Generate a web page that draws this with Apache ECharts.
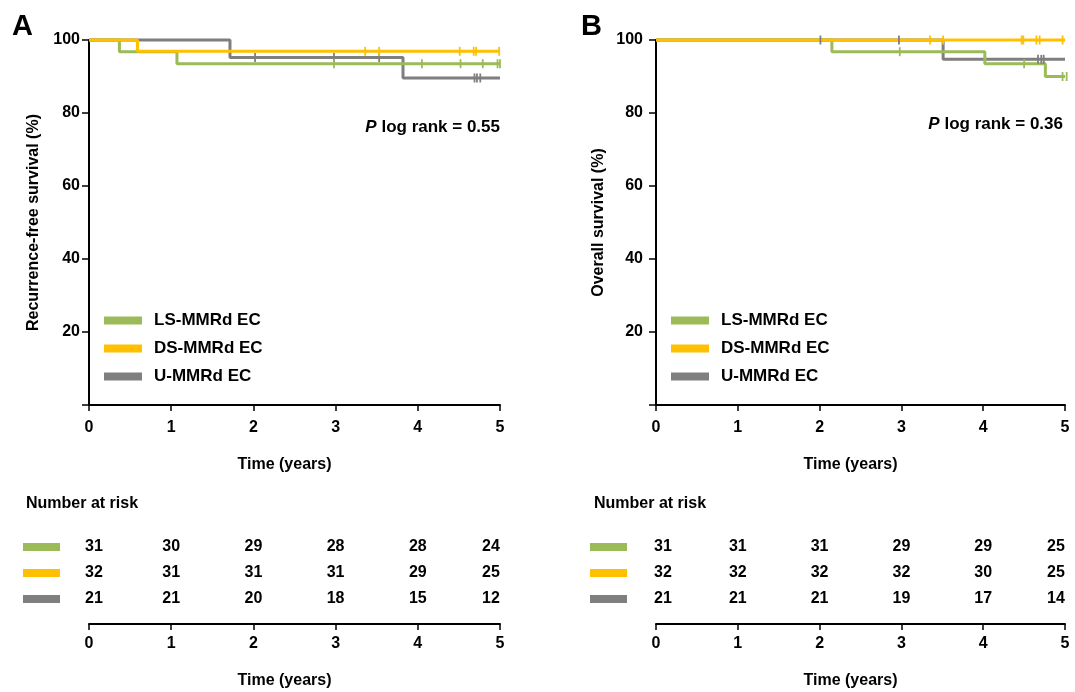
<!DOCTYPE html>
<html>
<head>
<meta charset="utf-8">
<script src="https://cdn.jsdelivr.net/npm/echarts@6/dist/echarts.min.js"></script>
<style>
  html, body { margin: 0; padding: 0; background: #fff; }
  #chart { width: 1075px; height: 692px; }
</style>
</head>
<body>
<div id="chart"></div>
<script>
const FONT = "Liberation Sans, Arial, sans-serif";
const groups = ["LS-MMRd EC", "DS-MMRd EC", "U-MMRd EC"];
const colors = ["#9BBB59", "#FFC000", "#7F7F7F"];
const years = [0, 1, 2, 3, 4, 5];

// panel A: recurrence-free survival, step points [years, %]
const rfsLS = [[0, 100], [0.37, 96.8], [1.07, 93.5], [5, 93.5]];
const rfsDS = [[0, 100], [0.59, 96.9], [5, 96.9]];
const rfsU  = [[0, 100], [1.715, 95.2], [3.82, 89.6], [5, 89.6]];
const rfsCensLS = [2.98, 4.05, 4.52, 4.79, 4.97, 5.0];
const rfsCensDS = [3.36, 3.53, 4.51, 4.68, 4.71, 4.99];
const rfsCensU  = [2.02, 2.98, 3.53, 4.69, 4.72, 4.76];
const riskA_LS = [31, 30, 29, 28, 28, 24];
const riskA_DS = [32, 31, 31, 31, 29, 25];
const riskA_U  = [21, 21, 20, 18, 15, 12];

// panel B: overall survival
const osLS = [[0, 100], [2.15, 96.8], [4.02, 93.5], [4.76, 90.0], [5, 90.0]];
const osDS = [[0, 100], [5, 100]];
const osU  = [[0, 100], [3.51, 94.7], [5, 94.7]];
const osCensLS = [2.98, 4.50, 4.97, 5.02];
const osCensDS = [3.35, 3.51, 4.47, 4.49, 4.65, 4.69, 4.97];
const osCensU  = [2.01, 2.97, 4.67, 4.71, 4.74];
const riskB_LS = [31, 31, 31, 29, 29, 25];
const riskB_DS = [32, 32, 32, 32, 30, 25];
const riskB_U  = [21, 21, 21, 19, 17, 14];

function survAt(curve, t) {
  let v = curve[0][1];
  for (const p of curve) if (p[0] <= t) v = p[1];
  return v;
}

const bold = { fontFamily: FONT, fontWeight: "bold", color: "#000" };
const axisLine = { show: true, onZero: false, lineStyle: { color: "#000", width: 2 } };
const tick = { show: true, lineStyle: { color: "#000", width: 1.5 } };

function plotAxes(gi, yName, nameGap, yMargin) {
  return {
    x: {
      gridIndex: gi, type: "value", min: 0, max: 5, interval: 1,
      axisLine, axisTick: { ...tick, length: 6 },
      axisLabel: { ...bold, fontSize: 16, margin: 15 },
      splitLine: { show: false },
      name: "Time (years)", nameLocation: "middle", nameGap: 52,
      nameTextStyle: { ...bold, fontSize: 16, padding: [0, 20, 0, 0] }
    },
    y: {
      gridIndex: gi, type: "value", min: 0, max: 100, interval: 20,
      axisLine, axisTick: { ...tick, length: 7 },
      axisLabel: { ...bold, fontSize: 16, margin: yMargin, formatter: v => v === 0 ? "" : v },
      splitLine: { show: false },
      name: yName, nameLocation: "middle", nameGap,
      nameTextStyle: { ...bold, fontSize: 16 }
    }
  };
}

function riskAxes(gi) {
  return {
    x: {
      gridIndex: gi, type: "value", min: 0, max: 5, interval: 1, offset: 12,
      axisLine, axisTick: { ...tick, length: 6 },
      axisLabel: { ...bold, fontSize: 16, margin: 12 },
      splitLine: { show: false },
      name: "Time (years)", nameLocation: "middle", nameGap: 49,
      nameTextStyle: { ...bold, fontSize: 16, padding: [0, 20, 0, 0] }
    },
    y: {
      gridIndex: gi, type: "category", data: ["ls", "ds", "u"], inverse: true,
      axisLine: { show: false }, axisTick: { show: false },
      axisLabel: {
        margin: 29, formatter: v => `{${v}|}`,
        rich: {
          ls: { backgroundColor: colors[0], width: 37, height: 8 },
          ds: { backgroundColor: colors[1], width: 37, height: 8 },
          u:  { backgroundColor: colors[2], width: 37, height: 8 }
        }
      }
    }
  };
}

const pA = plotAxes(0, "Recurrence-free survival (%)", 47, 9);
const pB = plotAxes(1, "Overall survival (%)", 49, 13);
const rA = riskAxes(2);
const rB = riskAxes(3);

function curveSeries(curves, xi) {
  // grey, green, then yellow so yellow sits on top
  return [2, 0, 1].map(i => ({
    name: groups[i], type: "line", step: "end", xAxisIndex: xi, yAxisIndex: xi,
    data: curves[i], showSymbol: false, silent: true, clip: false,
    lineStyle: { color: colors[i], width: 3 }, itemStyle: { color: colors[i] }
  }));
}

function censSeries(curves, cens, xi) {
  return [2, 0, 1].map(i => ({
    name: "cens" + xi + i, type: "scatter", xAxisIndex: xi, yAxisIndex: xi,
    data: cens[i].map(t => [t, survAt(curves[i], t)]), clip: false, silent: true,
    symbol: "rect", symbolSize: [1.8, 9], itemStyle: { color: colors[i], opacity: 1 }, z: 3
  }));
}

function riskSeries(rows, xi, firstShift) {
  const keys = ["ls", "ds", "u"];
  return rows.map((row, r) => ({
    name: "risk" + xi + r, type: "scatter", xAxisIndex: xi, yAxisIndex: xi,
    symbolSize: 0, silent: true, itemStyle: { opacity: 1 },
    data: row.map((n, c) => ({
      value: [years[c], keys[r], n],
      label: { offset: [c === 0 ? firstShift : c === 5 ? -9 : 0, 0] }
    })),
    label: {
      show: true, position: "inside", formatter: p => p.value[2],
      ...bold, fontSize: 16, opacity: 1, textBorderWidth: 0
    }
  }));
}

const curvesA = [rfsLS, rfsDS, rfsU];
const curvesB = [osLS, osDS, osU];

function legend(left) {
  return {
    data: groups, left, top: 307, orient: "vertical", icon: "rect",
    itemWidth: 38, itemHeight: 8, itemGap: 11, selectedMode: false,
    textStyle: { ...bold, fontSize: 17, padding: [0, 0, 0, 7] }
  };
}

function pTitle(text, right, top) {
  return {
    text: `{i|P} log rank = ${text}`, right, top,
    textStyle: { ...bold, fontSize: 17, rich: { i: { ...bold, fontSize: 17, fontStyle: "italic" } } }
  };
}

const option = {
  animation: false,
  title: [
    { text: "A", left: 7, top: 7, textStyle: { ...bold, fontSize: 29 } },
    { text: "B", left: 576, top: 7, textStyle: { ...bold, fontSize: 29 } },
    { text: "Number at risk", left: 21, top: 491, textStyle: { ...bold, fontSize: 16 } },
    { text: "Number at risk", left: 589, top: 491, textStyle: { ...bold, fontSize: 16 } },
    pTitle("0.55", 570, 114),
    pTitle("0.36", 7, 111)
  ],
  legend: [legend(99), legend(666)],
  grid: [
    { left: 89, top: 40, width: 411, height: 365 },
    { left: 656, top: 40, width: 409, height: 365 },
    { left: 89, top: 534, width: 411, height: 78 },
    { left: 656, top: 534, width: 409, height: 78 }
  ],
  xAxis: [pA.x, pB.x, rA.x, rB.x],
  yAxis: [pA.y, pB.y, rA.y, rB.y],
  series: [
    ...curveSeries(curvesA, 0),
    ...curveSeries(curvesB, 1),
    ...censSeries(curvesA, [rfsCensLS, rfsCensDS, rfsCensU], 0),
    ...censSeries(curvesB, [osCensLS, osCensDS, osCensU], 1),
    ...riskSeries([riskA_LS, riskA_DS, riskA_U], 2, 5),
    ...riskSeries([riskB_LS, riskB_DS, riskB_U], 3, 7)
  ]
};

echarts.init(document.getElementById("chart")).setOption(option);
</script>
</body>
</html>
